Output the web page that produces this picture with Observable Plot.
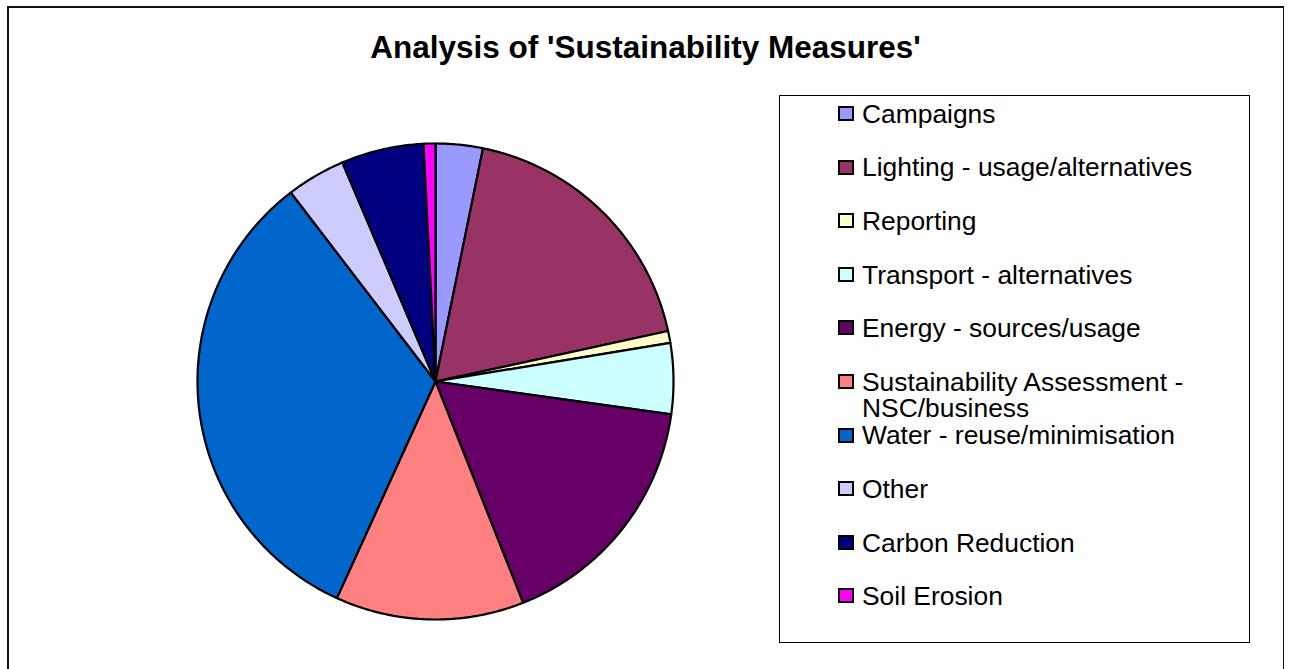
<!DOCTYPE html>
<html>
<head>
<meta charset="utf-8">
<script src="https://cdn.jsdelivr.net/npm/d3@7"></script>
<script src="https://cdn.jsdelivr.net/npm/@observablehq/plot@0.6"></script>
<style>
  html, body { margin: 0; padding: 0; background: #fff; width: 1289px; height: 669px; overflow: hidden; }
  body { font-family: "Liberation Sans", Arial, sans-serif; position: relative; }
  #frame { position: absolute; left: 7px; top: 6px; width: 1277px; height: 720px; border: 2px solid #111; box-sizing: border-box; border-right-width: 1px; }
  #title { position: absolute; left: 0; width: 1289px; top: 28px; text-align: center; font-weight: bold; font-size: 31.5px; line-height: 38px; color: #000; padding-left: 1px; }
  #pie { position: absolute; left: 195px; top: 141px; }
  #legend { position: absolute; left: 779px; top: 95px; width: 471px; height: 548px; border: 1px solid #000; box-sizing: border-box; background: #fff; }
  .sw { position: absolute; left: 58px; width: 16px; height: 15px; border: 2px solid #000; box-sizing: border-box; }
  .lab { position: absolute; left: 82px; width: 385px; font-size: 26.4px; line-height: 26.5px; color: #000; white-space: normal; }
</style>
</head>
<body>
<div id="frame"></div>
<div id="title">Analysis of 'Sustainability Measures'</div>
<div id="pie"></div>
<div id="legend"></div>
<script>
// Data
const categories = [
  "Campaigns",
  "Lighting - usage/alternatives",
  "Reporting",
  "Transport - alternatives",
  "Energy - sources/usage",
  "Sustainability Assessment - NSC/business",
  "Water - reuse/minimisation",
  "Other",
  "Carbon Reduction",
  "Soil Erosion"
];
const counts = [4, 23, 1, 6, 21, 16, 41, 5, 7, 1];
const colors = ["#9999FF", "#993366", "#FFFFCC", "#CCFFFF", "#660066", "#FF8080", "#0066CC", "#CCCCFF", "#000080", "#FF00FF"];

// Pie geometry from data via d3.pie
const arcs = d3.pie().sort(null).value(d => d.v)(categories.map((c, i) => ({c, v: counts[i]})));
const pts = [];
for (const a of arcs) {
  const name = a.data.c;
  pts.push({name, x: 0, y: 0});
  const n = Math.max(2, Math.ceil((a.endAngle - a.startAngle) / (Math.PI / 360)));
  for (let k = 0; k <= n; k++) {
    const t = a.startAngle + (a.endAngle - a.startAngle) * k / n;
    pts.push({name, x: Math.sin(t), y: Math.cos(t)});
  }
  pts.push({name, x: 0, y: 0});
}

const chart = Plot.plot({
  width: 480,
  height: 480,
  margin: 2,
  x: {domain: [-1, 1], axis: null},
  y: {domain: [-1, 1], axis: null},
  color: {domain: categories, range: colors},
  marks: [
    Plot.line(pts, {x: "x", y: "y", z: "name", fill: "name", stroke: "#000", strokeWidth: 2.2, strokeLinejoin: "round", curve: "linear"})
  ]
});
document.getElementById("pie").appendChild(chart);

// Legend
const legend = document.getElementById("legend");
categories.forEach((c, i) => {
  const cy = 18 + i * 53.6;
  const sw = document.createElement("div");
  sw.className = "sw";
  sw.style.top = (cy - 8) + "px";
  sw.style.background = colors[i];
  legend.appendChild(sw);
  const lab = document.createElement("div");
  lab.className = "lab";
  lab.style.top = (cy - 13.25) + "px";
  lab.textContent = c;
  legend.appendChild(lab);
});
</script>
</body>
</html>
